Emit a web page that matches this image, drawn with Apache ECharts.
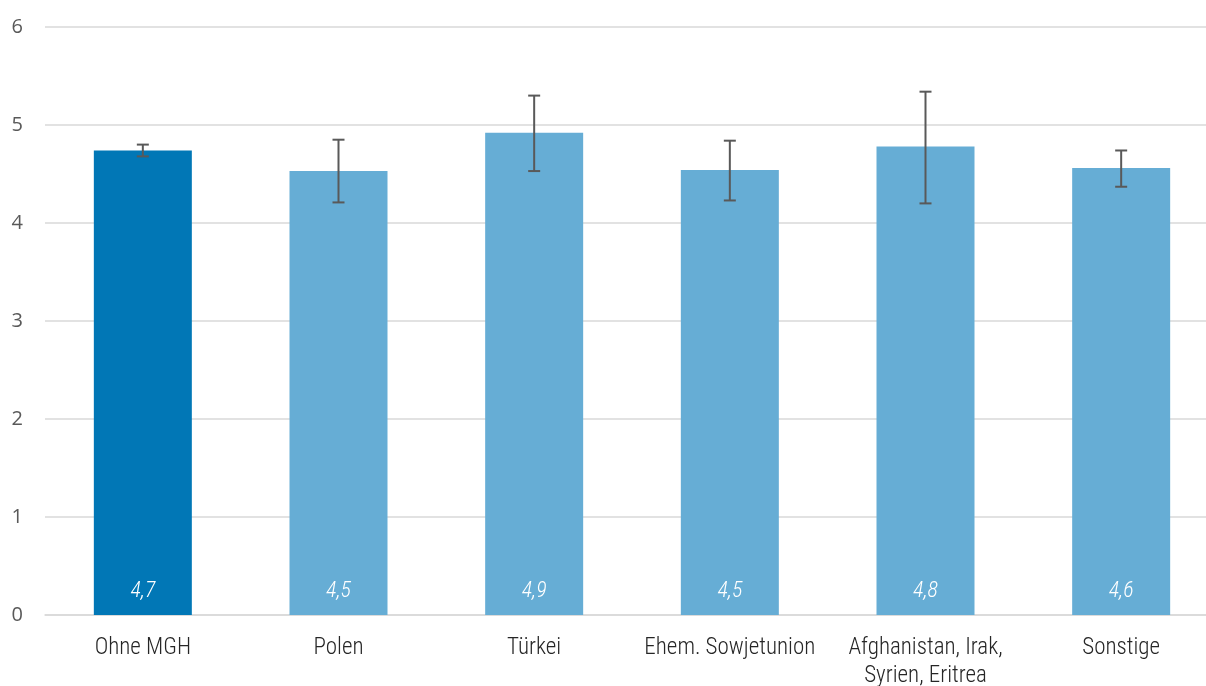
<!DOCTYPE html>
<html>
<head>
<meta charset="utf-8">
<script src="https://cdn.jsdelivr.net/npm/echarts@6/dist/echarts.min.js"></script>
<style>
html,body{margin:0;padding:0;background:#fff;}
#c{width:1206px;height:686px;}
</style>
</head>
<body>
<div id="c"></div>
<script>
var categories = ['Ohne MGH', 'Polen', 'Türkei', 'Ehem. Sowjetunion', 'Afghanistan, Irak,\nSyrien, Eritrea', 'Sonstige'];
var means = [4.74, 4.53, 4.92, 4.54, 4.78, 4.56];
var lower = [4.68, 4.21, 4.53, 4.23, 4.20, 4.37];
var upper = [4.80, 4.85, 5.30, 4.84, 5.34, 4.74];
var yTicks = [0, 1, 2, 3, 4, 5, 6];

var colors = ['#0177B6', '#66ADD5', '#66ADD5', '#66ADD5', '#66ADD5', '#66ADD5'];
var condensed = "'Liberation Sans Narrow', 'Roboto Condensed', 'Arial Narrow', Roboto, sans-serif";

var chart = echarts.init(document.getElementById('c'), null, {renderer: 'canvas'});
var errData = categories.map(function (c, i) { return [i, lower[i], upper[i]]; });

chart.setOption({
  animation: false,
  grid: {left: 45, top: 27, width: 1174, height: 588, containLabel: false, outerBoundsMode: 'none'},
  xAxis: {
    type: 'category',
    data: categories,
    axisLine: {show: true, lineStyle: {color: '#D9D9D9', width: 1.5}},
    axisTick: {show: false},
    axisLabel: {
      color: '#262626', fontFamily: condensed, fontSize: 23, fontWeight: 300,
      lineHeight: 28, margin: 19, interval: 0
    }
  },
  yAxis: {
    type: 'value',
    min: yTicks[0], max: yTicks[yTicks.length - 1], interval: 1,
    axisLine: {show: false},
    axisTick: {show: false},
    axisLabel: {color: '#595959', fontFamily: "'Open Sans', sans-serif", fontSize: 20, margin: 22},
    splitLine: {lineStyle: {color: '#D9D9D9', width: 1.5}}
  },
  series: [
    {
      type: 'bar',
      barWidth: 98,
      data: means.map(function (v, i) { return {value: v, itemStyle: {color: colors[i]}}; }),
      label: {
        show: true, position: 'insideBottom', distance: 13,
        color: '#ffffff', fontFamily: condensed, fontStyle: 'italic', fontWeight: 300, fontSize: 22,
        formatter: function (p) { return p.value.toFixed(1).replace('.', ','); }
      }
    },
    {
      type: 'custom',
      data: errData,
      z: 10,
      renderItem: function (params, api) {
        var x = api.value(0);
        var lo = api.coord([x, api.value(1)]);
        var hi = api.coord([x, api.value(2)]);
        var hw = 6;
        var st = {stroke: '#595959', lineWidth: 2, fill: null};
        return {
          type: 'group',
          children: [
            {type: 'line', shape: {x1: hi[0], y1: hi[1], x2: lo[0], y2: lo[1]}, style: st},
            {type: 'line', shape: {x1: hi[0] - hw, y1: hi[1], x2: hi[0] + hw, y2: hi[1]}, style: st},
            {type: 'line', shape: {x1: lo[0] - hw, y1: lo[1], x2: lo[0] + hw, y2: lo[1]}, style: st}
          ]
        };
      }
    }
  ]
});
</script>
</body>
</html>
